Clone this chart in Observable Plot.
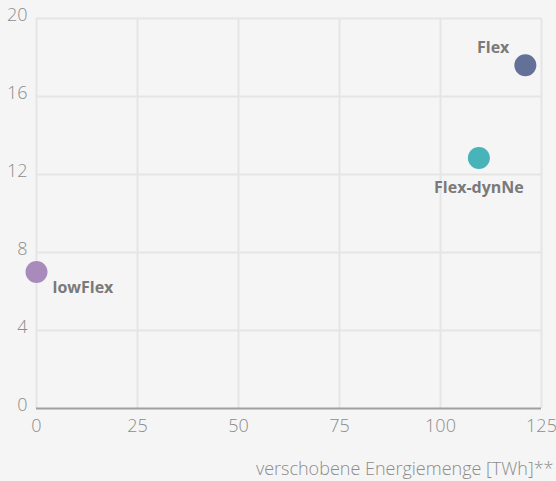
<!DOCTYPE html>
<html><head><meta charset="utf-8">
<script src="https://cdn.jsdelivr.net/npm/d3@7"></script>
<script src="https://cdn.jsdelivr.net/npm/@observablehq/plot@0.6"></script>
<style>
html,body{margin:0;padding:0;background:#f5f5f5;}
#chart{width:556px;height:481px;position:relative;}
svg{font-family:"Open Sans",sans-serif;}
</style></head><body><div id="chart"></div>
<script>
const scenarios = ["lowFlex", "Flex-dynNe", "Flex"];
const shifted = [0, 109.5, 121];
const values = [7.0, 12.85, 17.6];
const colors = ["#a98bbb", "#48b3b8", "#637198"];
const xTicks = [0, 25, 50, 75, 100, 125];
const yTicks = [0, 4, 8, 12, 16, 20];
const xLabel = "verschobene Energiemenge [TWh]**";

const data = scenarios.map((s, i) => ({name: s, x: shifted[i], y: values[i], c: colors[i]}));

const tickStyle = {tickSize: 0, fontSize: 18, fill: "#8c8c8c", fontWeight: 300, label: null};

const plot = Plot.plot({
  width: 556, height: 481,
  marginLeft: 36, marginRight: 15, marginTop: 18, marginBottom: 73,
  style: {background: "#f5f5f5", fontFamily: "'Open Sans', sans-serif"},
  x: {domain: [0, 125], ticks: xTicks},
  y: {domain: [0, 20], ticks: yTicks},
  marks: [
    Plot.gridX(xTicks, {stroke: "#e5e5e5", strokeOpacity: 1, strokeWidth: 2}),
    Plot.gridY(yTicks.slice(1), {stroke: "#e5e5e5", strokeOpacity: 1, strokeWidth: 2}),
    Plot.ruleY([0], {stroke: "#a0a0a0", strokeWidth: 2}),
    Plot.axisX({ticks: xTicks, tickPadding: 11, ...tickStyle}),
    Plot.axisY({ticks: yTicks, tickPadding: 9, dy: -3, ...tickStyle}),
    Plot.text([xLabel], {frameAnchor: "bottom-right", dy: 61, dx: 12, fontSize: 18, fill: "#8c8c8c", fontWeight: 300, textAnchor: "end", lineAnchor: "middle"}),
    Plot.dot(data, {x: "x", y: "y", r: 11, fill: "c", stroke: null}),
    Plot.text(data.filter(d => d.name === "Flex"), {x: "x", y: "y", text: "name", dx: -16, dy: -17, textAnchor: "end", fontSize: 16, fontWeight: "bold", fill: "#7a7a7a"}),
    Plot.text(data.filter(d => d.name === "Flex-dynNe"), {x: "x", y: "y", text: "name", dy: 30, textAnchor: "middle", fontSize: 16, fontWeight: "bold", fill: "#7a7a7a"}),
    Plot.text(data.filter(d => d.name === "lowFlex"), {x: "x", y: "y", text: "name", dx: 16, dy: 16, textAnchor: "start", fontSize: 16, fontWeight: "bold", fill: "#7a7a7a"})
  ]
});
document.getElementById("chart").appendChild(plot);
</script></body></html>
